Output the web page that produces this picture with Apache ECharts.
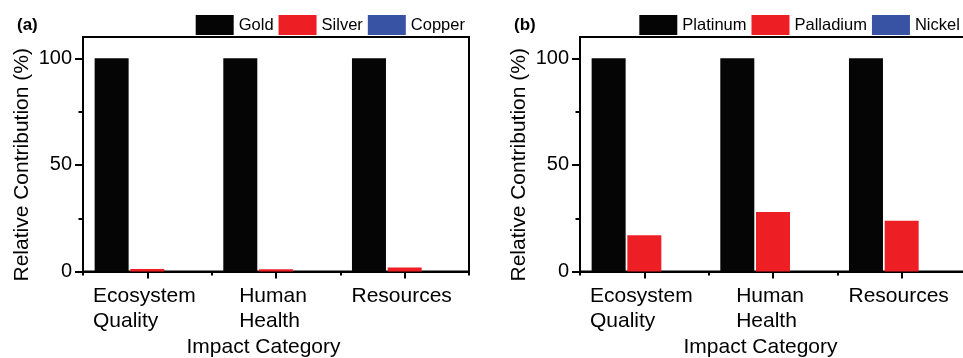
<!DOCTYPE html>
<html>
<head>
<meta charset="utf-8">
<script src="https://cdn.jsdelivr.net/npm/echarts@6/dist/echarts.min.js"></script>
<style>
  html, body { margin: 0; padding: 0; background: #fff; }
  #chart { width: 963px; height: 358px; }
</style>
</head>
<body>
<div id="chart"></div>
<script>
// Impact categories shared by both panels
const categories = ['Ecosystem\nQuality', 'Human\nHealth', 'Resources'];

// Panel (a): relative contribution of each metal (%)
const goldValues = [100, 100, 100];
const silverValues = [1.2, 1.1, 1.9];
const copperValues = [0, 0, 0];

// Panel (b): relative contribution of each metal (%)
const platinumValues = [100, 100, 100];
const palladiumValues = [17.1, 27.9, 23.8];
const nickelValues = [0, 0, 0];

// Y axis tick marks and labels
const majorTicks = [0, 50, 100];
const minorTicks = [25, 75];

const FONT = 'Liberation Sans, Arial, sans-serif';
const BLACK = '#050505';
const RED = '#ED1F24';
const BLUE = '#3853A4';

const grids = [
  { left: 83, top: 37, width: 386, height: 234.6 },
  { left: 580, top: 37, width: 386, height: 234.6 }
];

function mainYAxis(gridIndex) {
  return {
    type: 'value', gridIndex, position: 'left', min: 0, max: 110, interval: 50,
    name: 'Relative Contribution (%)',
    nameLocation: 'middle', nameGap: 50, nameRotate: 90,
    nameTextStyle: { fontFamily: FONT, fontSize: 21, color: '#000', padding: [0, 21, 0, 0] },
    axisLine: { show: true, lineStyle: { color: '#000', width: 2 } },
    axisTick: { show: true, length: 8, customValues: majorTicks, lineStyle: { color: '#000', width: 2 } },
    axisLabel: { fontFamily: FONT, fontSize: 20, color: '#000', margin: 11, customValues: majorTicks },
    splitLine: { show: false }
  };
}

// Second value axis on the same side, used only for the short intermediate ticks
function minorYAxis(gridIndex) {
  return {
    type: 'value', gridIndex, position: 'left', offset: 0, min: 0, max: 110, interval: 50,
    axisLine: { show: false },
    axisTick: { show: true, length: 4.5, customValues: minorTicks, lineStyle: { color: '#000', width: 2 } },
    axisLabel: { show: false },
    splitLine: { show: false }
  };
}

function mainXAxis(gridIndex) {
  return {
    type: 'category', gridIndex, data: categories,
    name: 'Impact Category',
    nameLocation: 'middle', nameGap: 61,
    nameTextStyle: { fontFamily: FONT, fontSize: 21, color: '#000', padding: [0, 25, 0, 0] },
    axisLine: { show: true, lineStyle: { color: '#000', width: 2 } },
    axisTick: { show: true, alignWithLabel: true, length: 7, lineStyle: { color: '#000', width: 2 } },
    axisLabel: {
      margin: 12, padding: [0, 6, 0, 0],
      formatter: v => v.split('\n').map(s => '{t|' + s + '}').join('\n'),
      rich: { t: { fontFamily: FONT, fontSize: 21, color: '#000', lineHeight: 25, align: 'left' } }
    },
    splitLine: { show: false }
  };
}

// Category boundary ticks (shorter) between the groups
function boundaryXAxis(gridIndex) {
  return {
    type: 'category', gridIndex, data: categories, position: 'bottom',
    axisLine: { show: false },
    axisTick: { show: true, alignWithLabel: false, length: 4, lineStyle: { color: '#000', width: 2 } },
    axisLabel: { show: false },
    splitLine: { show: false }
  };
}

function barSeries(name, data, color, xi, yi) {
  return {
    name, type: 'bar', data, xAxisIndex: xi, yAxisIndex: yi,
    barWidth: 34, barGap: '5%',
    itemStyle: { color },
    emphasis: { disabled: true }
  };
}

function legend(left, names) {
  return {
    left, top: 10, width: 420, orient: 'horizontal',
    itemWidth: 38, itemHeight: 20, itemGap: 5, icon: 'rect',
    textStyle: { fontFamily: FONT, fontSize: 16.5, color: '#000' },
    data: names
  };
}

const chart = echarts.init(document.getElementById('chart'), null, { renderer: 'canvas' });
chart.setOption({
  animation: false,
  backgroundColor: '#fff',
  title: [
    { text: '(a)', left: 12, top: 12, textStyle: { fontFamily: FONT, fontSize: 17, fontWeight: 'bold', color: '#000' } },
    { text: '(b)', left: 509, top: 12, textStyle: { fontFamily: FONT, fontSize: 17, fontWeight: 'bold', color: '#000' } }
  ],
  legend: [
    legend(190.7, ['Gold', 'Silver', 'Copper']),
    legend(634.3, ['Platinum', 'Palladium', 'Nickel'])
  ],
  grid: grids.map(g => Object.assign({
    show: true, borderColor: '#000', borderWidth: 2, backgroundColor: 'transparent',
    containLabel: false, outerBoundsMode: 'none'
  }, g)),
  xAxis: [mainXAxis(0), mainXAxis(1), boundaryXAxis(0), boundaryXAxis(1)],
  yAxis: [mainYAxis(0), mainYAxis(1), minorYAxis(0), minorYAxis(1)],
  series: [
    barSeries('Gold', goldValues, BLACK, 0, 0),
    barSeries('Silver', silverValues, RED, 0, 0),
    barSeries('Copper', copperValues, BLUE, 0, 0),
    barSeries('Platinum', platinumValues, BLACK, 1, 1),
    barSeries('Palladium', palladiumValues, RED, 1, 1),
    barSeries('Nickel', nickelValues, BLUE, 1, 1)
  ]
});
</script>
</body>
</html>
